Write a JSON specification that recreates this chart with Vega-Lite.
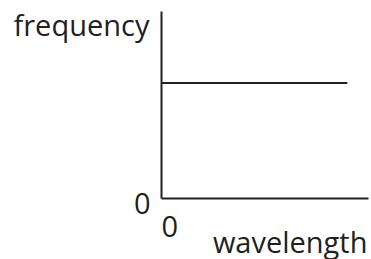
{
  "$schema": "https://vega.github.io/schema/vega-lite/v6.json",
  "width": 207,
  "height": 187,
  "autosize": {"type": "none"},
  "padding": {"left": 161, "top": 11, "right": 3, "bottom": 61},
  "background": "white",
  "config": {
    "view": {"stroke": null},
    "font": "Open Sans"
  },
  "data": {"values": [
    {"wavelength": 0, "frequency": 61.5},
    {"wavelength": 90, "frequency": 61.5}
  ]},
  "mark": {"type": "line", "color": "#231f20", "strokeWidth": 2},
  "encoding": {
    "x": {
      "field": "wavelength", "type": "quantitative",
      "scale": {"domain": [0, 100], "nice": false},
      "axis": {
        "title": "wavelength", "values": [0], "ticks": false, "grid": false,
        "domainColor": "#231f20", "domainWidth": 2,
        "labelFont": "Open Sans", "labelFontSize": 29, "labelColor": "#231f20", "labelPadding": 15,
        "titleFont": "Open Sans", "titleFontSize": 29, "titleFontWeight": "normal", "titleColor": "#231f20",
        "titleAlign": "right", "titleBaseline": "alphabetic", "titleAnchor": null,
        "titleX": 206, "titleY": 54
      }
    },
    "y": {
      "field": "frequency", "type": "quantitative",
      "scale": {"domain": [0, 100], "nice": false},
      "axis": {
        "title": "frequency", "values": [0], "ticks": false, "grid": false,
        "domainColor": "#231f20", "domainWidth": 2,
        "labelFont": "Open Sans", "labelFontSize": 29, "labelColor": "#231f20", "labelPadding": 11, "labelOffset": 6,
        "titleFont": "Open Sans", "titleFontSize": 29, "titleFontWeight": "normal", "titleColor": "#231f20",
        "titleAngle": 0, "titleAlign": "left", "titleBaseline": "alphabetic", "titleAnchor": null,
        "titleX": -148, "titleY": 24
      }
    }
  }
}
